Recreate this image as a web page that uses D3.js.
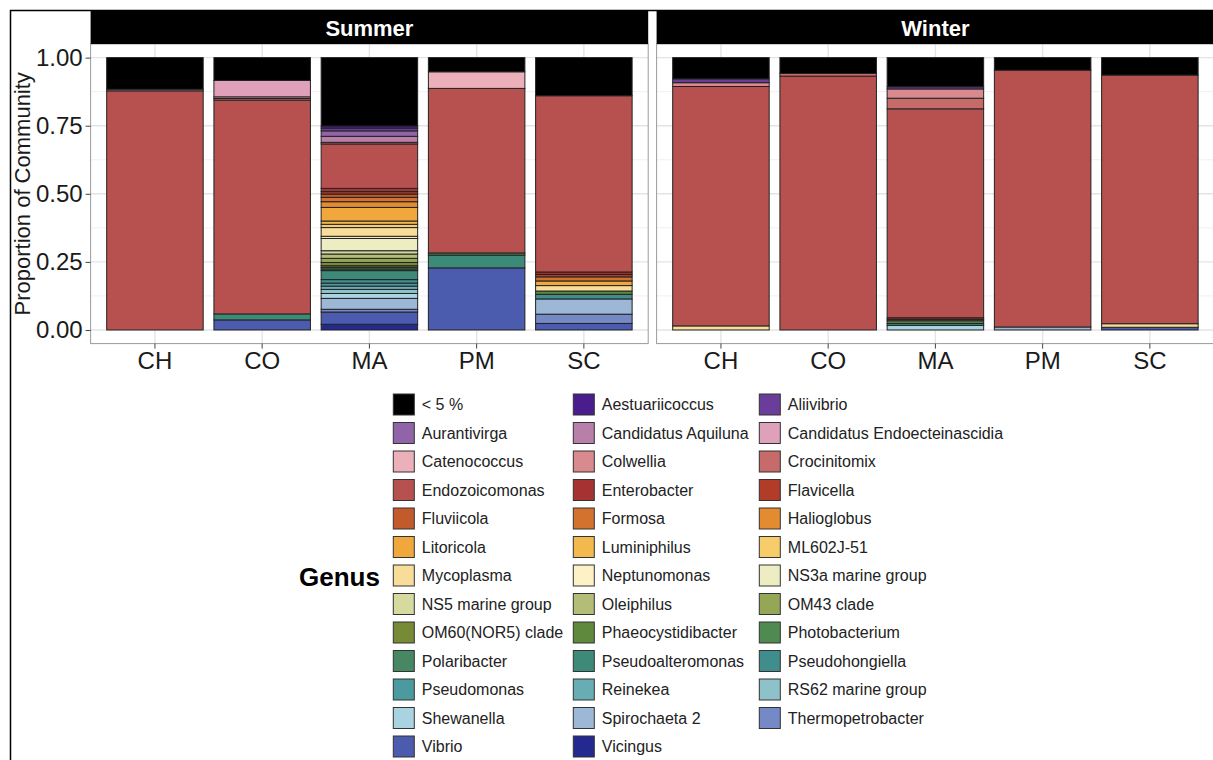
<!DOCTYPE html>
<html>
<head>
<meta charset="utf-8">
<script src="https://cdn.jsdelivr.net/npm/d3@7"></script>
<style>
  html, body { margin: 0; padding: 0; background: #fff; }
  svg { display: block; font-family: "Liberation Sans", Arial, Helvetica, sans-serif; }
</style>
</head>
<body>
<svg id="chart" width="1213" height="760"></svg>
<script>
// Genus levels in legend order; the first level sits on top of each stack
const genera = [
  "< 5 %", "Aestuariicoccus", "Aliivibrio", "Aurantivirga", "Candidatus Aquiluna",
  "Candidatus Endoecteinascidia", "Catenococcus", "Colwellia", "Crocinitomix",
  "Endozoicomonas", "Enterobacter", "Flavicella", "Fluviicola", "Formosa",
  "Halioglobus", "Litoricola", "Luminiphilus", "ML602J-51", "Mycoplasma",
  "Neptunomonas", "NS3a marine group", "NS5 marine group", "Oleiphilus",
  "OM43 clade", "OM60(NOR5) clade", "Phaeocystidibacter", "Photobacterium",
  "Polaribacter", "Pseudoalteromonas", "Pseudohongiella", "Pseudomonas",
  "Reinekea", "RS62 marine group", "Shewanella", "Spirochaeta 2",
  "Thermopetrobacter", "Vibrio", "Vicingus"
];

const genusColors = [
  "#000000", "#4a1d8c", "#6a3d9a", "#9163a8", "#b87fab",
  "#dfa1ba", "#ecb0bb", "#d98a8f", "#c66a6a",
  "#b75150", "#a63232", "#b13c27", "#c25a2c", "#d3722e",
  "#e38b30", "#f0a83d", "#f3b94e", "#f7cd6c", "#f7dd99",
  "#fcf2c5", "#eeecc2", "#d6da9f", "#b3bd77",
  "#95a757", "#778b36", "#5f8a3d", "#4f8a51",
  "#478763", "#3d8a79", "#3f8d8c", "#4b9a9f",
  "#67adb3", "#8dc2cb", "#a9d3e0", "#9db8d6",
  "#7589c7", "#4b5bad", "#24298f"
];

const seasons = ["Summer", "Winter"];
const sites = ["CH", "CO", "MA", "PM", "SC"];
const yTicks = [0, 0.25, 0.5, 0.75, 1];
const yMinor = [0.125, 0.375, 0.625, 0.875];

// Relative abundance per sample: [genus, proportion]
const summerCH = [["< 5 %", 0.116], ["Candidatus Aquiluna", 0.006], ["Endozoicomonas", 0.878]];
const summerCO = [["< 5 %", 0.084], ["Candidatus Endoecteinascidia", 0.060], ["Catenococcus", 0.006],
  ["Crocinitomix", 0.006], ["Endozoicomonas", 0.785], ["Pseudoalteromonas", 0.022], ["Vibrio", 0.037]];
const summerMA = [["< 5 %", 0.251], ["Aestuariicoccus", 0.008], ["Aliivibrio", 0.010], ["Aurantivirga", 0.020],
  ["Candidatus Aquiluna", 0.022], ["Crocinitomix", 0.006], ["Endozoicomonas", 0.163],
  ["Enterobacter", 0.012], ["Flavicella", 0.009], ["Fluviicola", 0.012], ["Formosa", 0.016],
  ["Halioglobus", 0.021], ["Litoricola", 0.050], ["Luminiphilus", 0.012], ["ML602J-51", 0.012],
  ["Mycoplasma", 0.032], ["Neptunomonas", 0.008], ["NS3a marine group", 0.045],
  ["NS5 marine group", 0.012], ["Oleiphilus", 0.016], ["OM43 clade", 0.015],
  ["OM60(NOR5) clade", 0.012], ["Phaeocystidibacter", 0.006], ["Photobacterium", 0.006],
  ["Polaribacter", 0.006], ["Pseudoalteromonas", 0.033], ["Pseudohongiella", 0.013],
  ["Pseudomonas", 0.011], ["Reinekea", 0.012], ["RS62 marine group", 0.015],
  ["Shewanella", 0.018], ["Spirochaeta 2", 0.040], ["Thermopetrobacter", 0.010],
  ["Vibrio", 0.045], ["Vicingus", 0.021]];
const summerPM = [["< 5 %", 0.052], ["Catenococcus", 0.061], ["Endozoicomonas", 0.604],
  ["Photobacterium", 0.008], ["Pseudoalteromonas", 0.047], ["Vibrio", 0.228]];
const summerSC = [["< 5 %", 0.140], ["Endozoicomonas", 0.647], ["Enterobacter", 0.009],
  ["Flavicella", 0.009], ["Formosa", 0.015], ["Litoricola", 0.017], ["Mycoplasma", 0.020],
  ["Phaeocystidibacter", 0.012], ["Pseudohongiella", 0.017], ["Spirochaeta 2", 0.056],
  ["Thermopetrobacter", 0.034], ["Vibrio", 0.024]];
const winterCH = [["< 5 %", 0.078], ["Aliivibrio", 0.014], ["Colwellia", 0.014],
  ["Endozoicomonas", 0.879], ["Mycoplasma", 0.015]];
const winterCO = [["< 5 %", 0.058], ["Crocinitomix", 0.010], ["Endozoicomonas", 0.932]];
const winterMA = [["< 5 %", 0.107], ["Aliivibrio", 0.008], ["Colwellia", 0.034], ["Crocinitomix", 0.039],
  ["Endozoicomonas", 0.767], ["Enterobacter", 0.006], ["Fluviicola", 0.005],
  ["Photobacterium", 0.010], ["Pseudoalteromonas", 0.007], ["Shewanella", 0.017]];
const winterPM = [["< 5 %", 0.046], ["Endozoicomonas", 0.943], ["Spirochaeta 2", 0.011]];
const winterSC = [["< 5 %", 0.064], ["Endozoicomonas", 0.913], ["Mycoplasma", 0.013], ["Vibrio", 0.010]];

const samples = {
  Summer: { CH: summerCH, CO: summerCO, MA: summerMA, PM: summerPM, SC: summerSC },
  Winter: { CH: winterCH, CO: winterCO, MA: winterMA, PM: winterPM, SC: winterSC }
};

const color = d3.scaleOrdinal().domain(genera).range(genusColors);

const svg = d3.select("#chart");

// outer frame
svg.append("path")
  .attr("d", "M10.5,760 V10.5 H1213")
  .attr("fill", "none").attr("stroke", "#000").attr("stroke-width", 1.5);

const panelTop = 44, panelBottom = 343.6;
const panelX = { Summer: [90.6, 648.2], Winter: [656.6, 1214.2] };

const y = d3.scaleLinear().domain([-0.05, 1.05]).range([panelBottom, panelTop]);

const stackGen = d3.stack().keys(genera.slice().reverse());

seasons.forEach((season, si) => {
  const [x0, x1] = panelX[season];
  const x = d3.scaleBand().domain(sites).range([x0, x1])
    .paddingInner(0.1).paddingOuter(0.15);

  const g = svg.append("g");

  // grid
  g.selectAll(".minor").data(yMinor).join("line")
    .attr("x1", x0).attr("x2", x1)
    .attr("y1", d => y(d)).attr("y2", d => y(d))
    .attr("stroke", "#ececec").attr("stroke-width", 0.8);
  g.selectAll(".major").data(yTicks).join("line")
    .attr("x1", x0).attr("x2", x1)
    .attr("y1", d => y(d)).attr("y2", d => y(d))
    .attr("stroke", "#e4e4e4").attr("stroke-width", 1.4);
  g.selectAll(".vgrid").data(sites).join("line")
    .attr("x1", d => x(d) + x.bandwidth() / 2).attr("x2", d => x(d) + x.bandwidth() / 2)
    .attr("y1", panelTop).attr("y2", panelBottom)
    .attr("stroke", "#e4e4e4").attr("stroke-width", 1.4);

  // stacked bars
  const rows = sites.map(site => {
    const row = { site };
    genera.forEach(gn => row[gn] = 0);
    samples[season][site].forEach(([gn, v]) => row[gn] = v);
    return row;
  });
  const series = stackGen(rows);
  g.selectAll(".layer").data(series).join("g")
    .attr("fill", d => color(d.key))
    .selectAll("rect")
    .data(d => d.filter(p => p[1] - p[0] > 0))
    .join("rect")
    .attr("x", d => x(d.data.site))
    .attr("width", x.bandwidth())
    .attr("y", d => y(d[1]))
    .attr("height", d => y(d[0]) - y(d[1]))
    .attr("stroke", "#222").attr("stroke-width", 1);

  // panel border
  g.append("rect")
    .attr("x", x0).attr("y", panelTop)
    .attr("width", x1 - x0).attr("height", panelBottom - panelTop)
    .attr("fill", "none").attr("stroke", "#9a9a9a").attr("stroke-width", 1);

  // strip
  g.append("rect")
    .attr("x", x0).attr("y", 11).attr("width", x1 - x0).attr("height", panelTop - 11)
    .attr("fill", "#000");
  g.append("text")
    .attr("x", (x0 + Math.min(x1, 1213 + 1.6)) / 2 + (si === 1 ? 0 : 0)).attr("y", 28)
    .attr("text-anchor", "middle").attr("dominant-baseline", "central")
    .attr("fill", "#fff").attr("font-weight", "bold").attr("font-size", 22)
    .text(season);

  // x axis
  const xAxis = g.append("g").attr("transform", `translate(0,${panelBottom})`)
    .call(d3.axisBottom(x).tickSize(5).tickPadding(3));
  xAxis.select(".domain").remove();
  xAxis.selectAll(".tick line").attr("stroke", "#444").attr("stroke-width", 1);
  xAxis.selectAll(".tick text").attr("font-size", 24).attr("fill", "#1a1a1a")
    .attr("font-family", "Liberation Sans, Arial, sans-serif");

  // y axis on first panel only
  if (si === 0) {
    const yAxis = g.append("g").attr("transform", `translate(${x0},0)`)
      .call(d3.axisLeft(y).tickValues(yTicks).tickFormat(d3.format(".2f")).tickSize(5).tickPadding(3));
    yAxis.select(".domain").remove();
    yAxis.selectAll(".tick line").attr("stroke", "#444").attr("stroke-width", 1);
    yAxis.selectAll(".tick text").attr("font-size", 24).attr("fill", "#1a1a1a")
      .attr("font-family", "Liberation Sans, Arial, sans-serif");
  }
});

// y axis title
svg.append("text")
  .attr("transform", `translate(22,${(y(0) + y(1)) / 2}) rotate(-90)`)
  .attr("text-anchor", "middle").attr("dominant-baseline", "central")
  .attr("font-size", 22).attr("fill", "#1a1a1a")
  .text("Proportion of Community");

// legend: three columns, filled row by row
const legendCols = [393.3, 573.3, 759.3];
const legendTop = 394, rowStep = 28.5, keySize = 21;
const legend = svg.append("g");
legend.append("text")
  .attr("x", 299).attr("y", 577)
  .attr("dominant-baseline", "central")
  .attr("font-size", 26).attr("font-weight", "bold").attr("fill", "#000")
  .text("Genus");
const items = legend.selectAll(".item").data(genera).join("g")
  .attr("transform", (d, i) => `translate(${legendCols[i % 3]},${legendTop + Math.floor(i / 3) * rowStep})`);
items.append("rect")
  .attr("width", keySize).attr("height", keySize)
  .attr("fill", d => color(d)).attr("stroke", "#333").attr("stroke-width", 1);
items.append("text")
  .attr("x", keySize + 7.5).attr("y", keySize / 2)
  .attr("dominant-baseline", "central")
  .attr("font-size", 16).attr("fill", "#222")
  .text(d => d);
</script>
</body>
</html>
